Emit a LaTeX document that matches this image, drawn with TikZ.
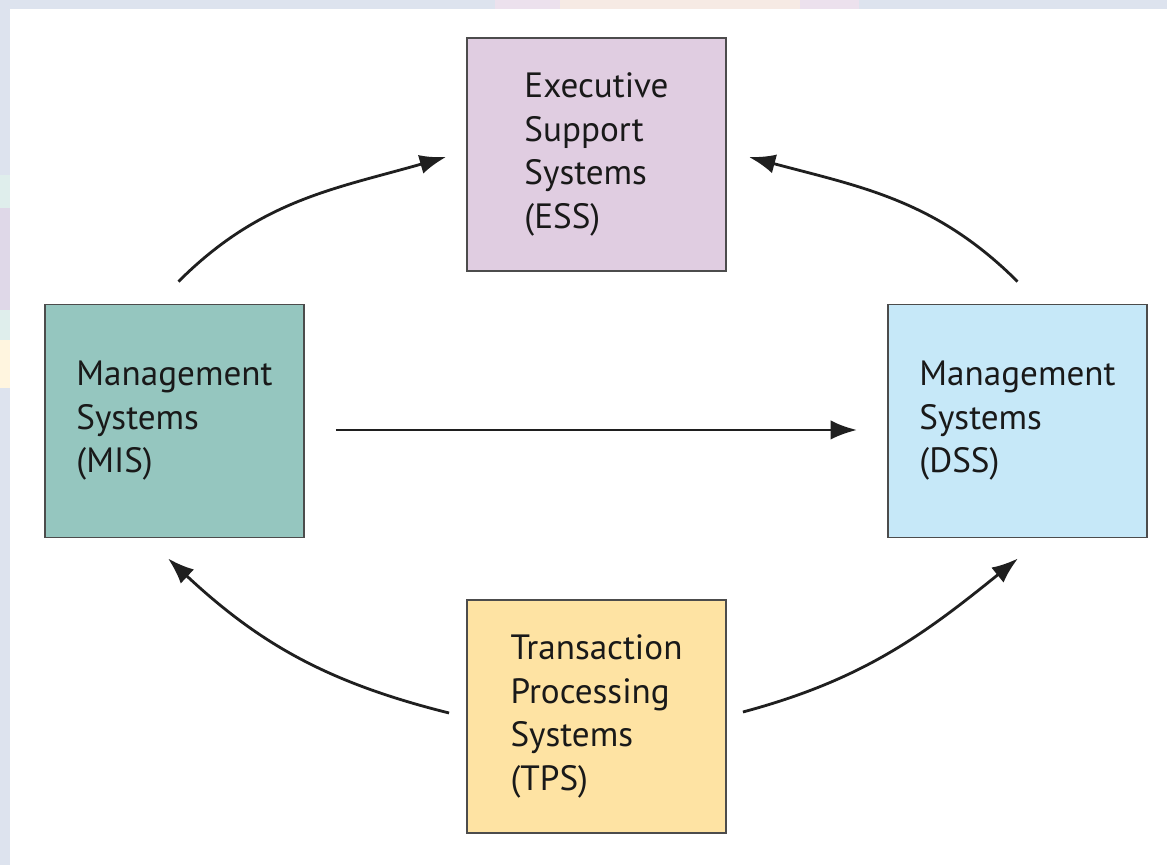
\documentclass[tikz,border=0pt]{standalone}
\usepackage{fontspec}
\setmainfont{PT Sans}
\usepackage{tikz}
\usetikzlibrary{arrows.meta,positioning,calc}
\definecolor{Frame}{HTML}{DDE3EE}
\definecolor{Executive}{HTML}{E0CDE1}
\definecolor{Management}{HTML}{95C6BF}
\definecolor{Decision}{HTML}{C6E8F8}
\definecolor{Transaction}{HTML}{FEE3A3}

\begin{document}
\begin{tikzpicture}[
    x=0.02cm, y=0.02cm,
    system/.style={draw=black!70, line width=1.1pt, rectangle, minimum width=5.18cm, minimum height=4.66cm,
      align=left, text=black!90, font={\fontsize{20}{24.8}\selectfont}},
    flow/.style={-{Latex[length=15pt,width=11pt]}, line width=1.6pt, draw=black!88}
  ]
  % page with its faint frame
  \useasboundingbox (0,0) rectangle (1167,865);
  \fill[Frame] (0,0) rectangle (1167,865);
  \fill[Executive!60] (495,856) rectangle (859,865);
  \fill[Transaction!40!Executive!50] (560,856) rectangle (800,865);
  \fill[Management!30] (0,657) rectangle (10,690);
  \fill[Executive!50!Frame] (0,555) rectangle (10,657);
  \fill[Management!30] (0,525) rectangle (10,555);
  \fill[Transaction!35] (0,477) rectangle (10,525);
  \fill[white] (10,0) rectangle (1167,856);

  \node[system, fill=Executive] (ESS) at (596.5,710.5) {Executive\\Support\\Systems\\(ESS)};
  \node[system, fill=Management] (MIS) at (174.5,444) {Management\\Systems\\(MIS)};
  \node[system, fill=Decision] (DSS) at (1017.5,444) {Management\\Systems\\(DSS)};
  \node[system, fill=Transaction] (TPS) at (596.5,148.5) {Transaction\\Processing\\Systems\\(TPS)};

  \draw[flow] ($(MIS.north)+(4,22)$) to[out=45,in=196] ($(ESS.west)+(-20,-2.5)$);
  \draw[flow] ($(DSS.north)+(0,22)$) to[out=135,in=-15] ($(ESS.east)+(22,-2.5)$);
  \draw[flow] ($(MIS.east)+(31,-9)$) -- ($(DSS.west)+(-30,-9)$);
  \draw[flow] ($(TPS.west)+(-17,3.5)$) to[out=166,in=-43] ($(MIS.south)+(-6.5,-20)$);
  \draw[flow] ($(TPS.east)+(16,4.5)$) to[out=15,in=219] ($(DSS.south)+(0.5,-20)$);
\end{tikzpicture}
\end{document}
